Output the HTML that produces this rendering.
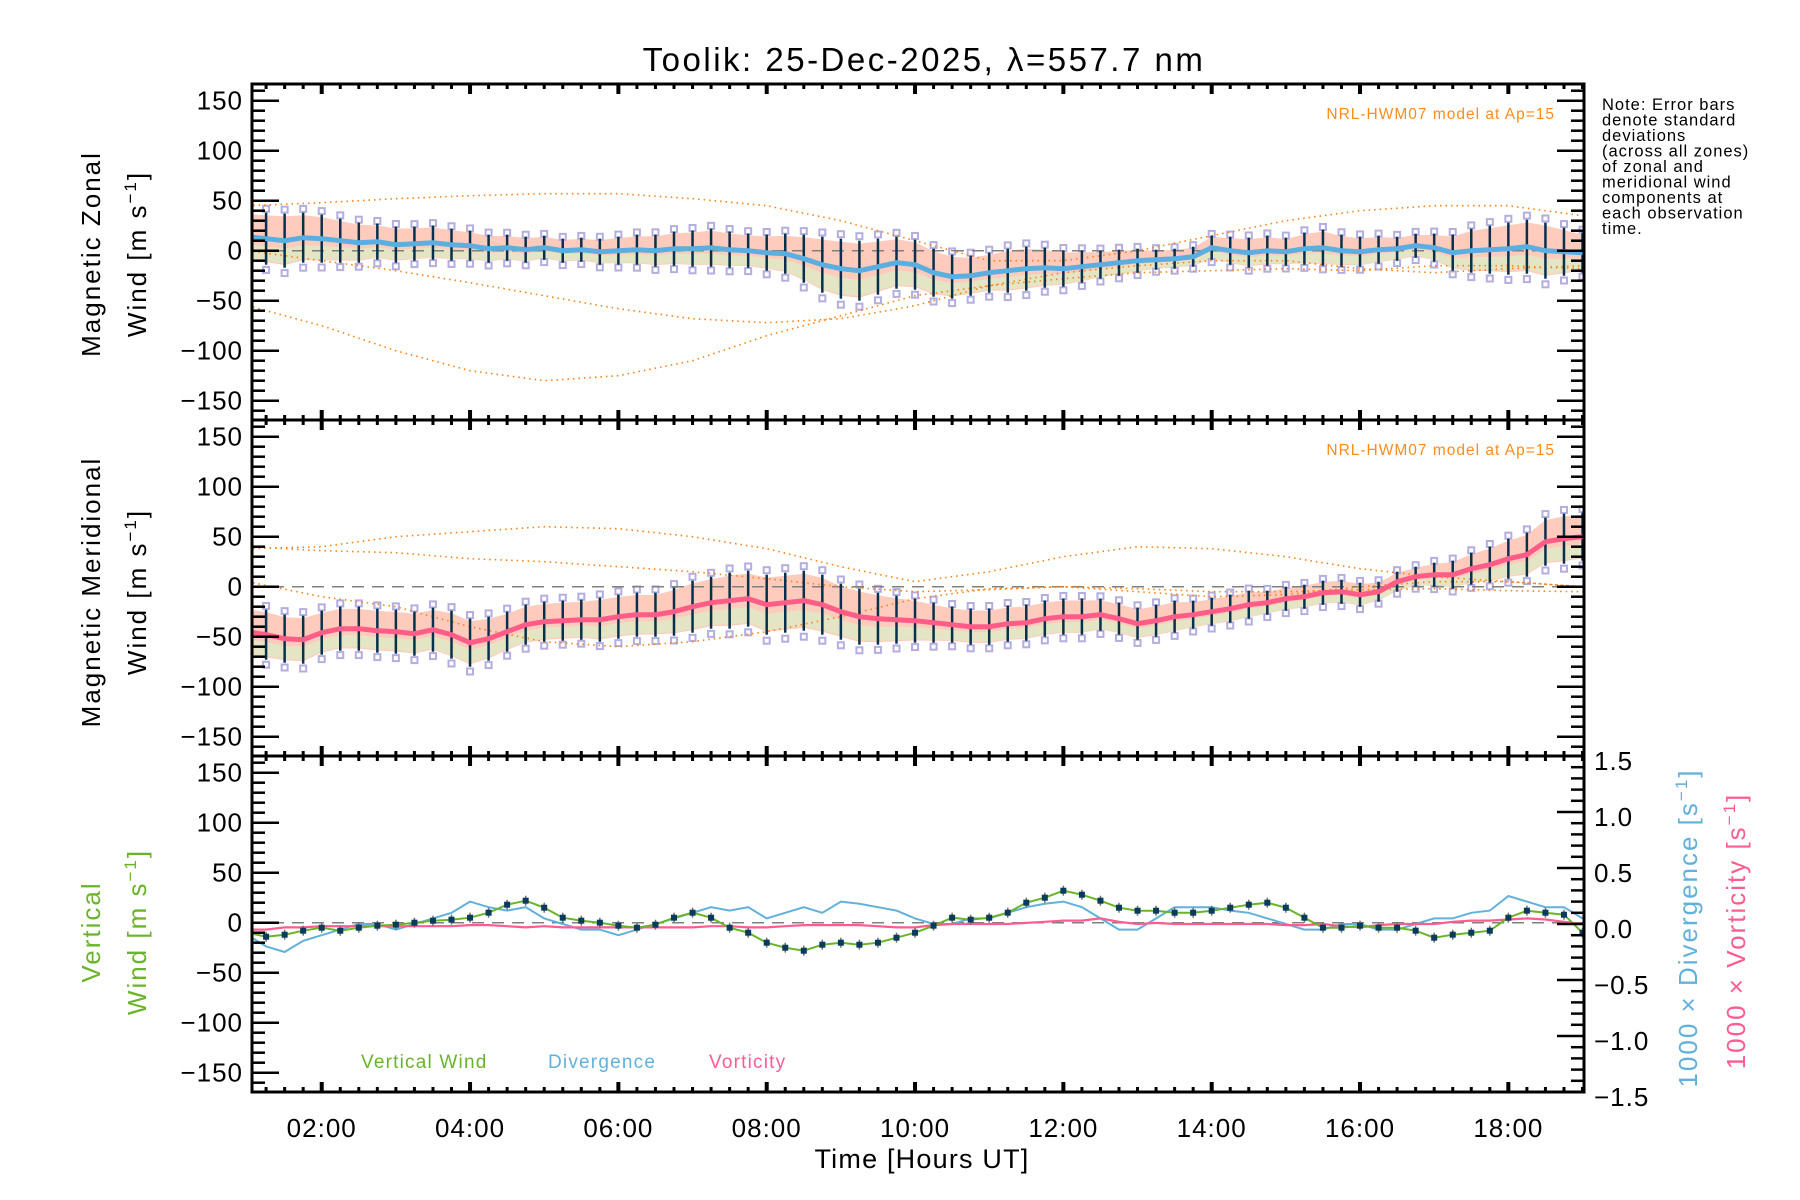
<!DOCTYPE html>
<html><head><meta charset="utf-8"><style>
html,body{margin:0;padding:0;background:#fff}
svg{display:block}
text{font-family:"Liberation Sans",sans-serif}
</style></head><body>
<svg id="chart" width="1800" height="1200" viewBox="0 0 1800 1200" xmlns="http://www.w3.org/2000/svg">
<text x="924" y="71" font-size="33" letter-spacing="2.5" text-anchor="middle">Toolik: 25-Dec-2025, λ=557.7 nm</text>
<g font-size="16.5" letter-spacing="1">
<text x="1602" y="110">Note: Error bars</text>
<text x="1602" y="125.5">denote standard</text>
<text x="1602" y="141">deviations</text>
<text x="1602" y="156.5">(across all zones)</text>
<text x="1602" y="172">of zonal and</text>
<text x="1602" y="187.5">meridional wind</text>
<text x="1602" y="203">components at</text>
<text x="1602" y="218.5">each observation</text>
<text x="1602" y="234">time.</text>
</g>
<g id="plots"></g>
</svg>
<script>
// ---- data (t = 1.00 .. 19.00 step 0.25 h) ----
const zonal = [14,12,10,13, 12,10,8,9, 6,7,8,6, 5,2,3,1, 3,0,1,-1, 0,1,0,2, 2,3,1,0, -2,-3,-8,-14, -18,-20,-16,-12, -14,-22,-26,-25, -22,-20,-18,-17, -18,-16,-14,-12, -10,-9,-8,-6, 3,0,-2,0, -1,2,3,0, -1,1,2,5, 3,-2,0,1, 2,4,0,-1, -2];
const zonalStd = [25,26,27,25, 24,22,20,18, 18,17,17,16, 15,14,13,13, 12,12,12,13, 14,15,16,17, 18,19,18,17, 18,20,24,28, 30,30,28,26, 25,24,22,20, 20,22,22,20, 18,16,14,13, 12,10,10,10, 12,14,15,15, 14,16,18,16, 15,14,12,12, 14,18,22,24, 26,27,28,24, 20];
const merid = [-45,-48,-52,-53, -46,-42,-42,-44, -45,-47,-43,-48, -56,-52,-45,-38, -35,-34,-33,-33, -30,-28,-28,-25, -20,-16,-14,-12, -18,-16,-14,-18, -25,-30,-32,-33, -34,-36,-38,-40, -40,-37,-36,-32, -30,-30,-28,-32, -37,-34,-30,-28, -25,-22,-18,-16, -12,-10,-6,-5, -8,-5,5,10, 12,12,18,22, 28,32,45,48, 50];
const meridStd = [25,25,24,24, 22,22,22,22, 22,22,22,24, 24,22,20,20, 20,20,20,22, 22,22,22,24, 26,26,28,28, 30,30,30,30, 28,28,26,24, 22,20,18,18, 18,18,18,18, 18,18,16,16, 16,16,16,14, 14,14,14,12, 12,12,12,12, 12,10,10,10, 12,14,16,18, 20,22,24,25, 24];
const vertical = [-10,-14,-12,-8, -5,-8,-5,-3, -2,0,2,3, 5,10,18,22, 15,5,2,0, -3,-5,-2,5, 10,5,-5,-10, -20,-25,-28,-22, -20,-22,-20,-15, -10,-3,5,3, 5,10,20,25, 32,28,22,15, 12,12,10,10, 12,15,18,20, 15,5,-5,-5, -3,-5,-5,-8, -15,-12,-10,-8, 5,12,10,8, -10];
const divergence = [-0.1,-0.2,-0.25,-0.15, -0.1,-0.05,0.0,0.0, -0.05,0.0,0.05,0.1, 0.2,0.15,0.12,0.15, 0.05,0.0,-0.05,-0.05, -0.1,-0.05,0.0,0.05, 0.1,0.15,0.12,0.15, 0.05,0.1,0.15,0.1, 0.2,0.18,0.15,0.12, 0.05,0.0,0.0,0.05, 0.05,0.1,0.15,0.18, 0.2,0.15,0.05,-0.05, -0.05,0.05,0.15,0.15, 0.15,0.12,0.1,0.05, 0.0,-0.05,-0.05,0.0, 0.0,-0.05,-0.05,0.0, 0.05,0.05,0.1,0.12, 0.25,0.2,0.15,0.15, 0.05];
const vorticity = [-0.05,-0.05,-0.03,-0.03, -0.02,-0.02,-0.02,-0.02, -0.02,-0.02,-0.02,-0.02, -0.01,-0.01,-0.02,-0.03, -0.02,-0.03,-0.03,-0.03, -0.03,-0.03,-0.03,-0.03, -0.03,-0.02,-0.02,-0.03, -0.03,-0.02,-0.01,-0.01, -0.01,-0.01,-0.02,-0.03, -0.03,-0.01,0.0,0.0, 0.0,0.0,0.01,0.02, 0.03,0.03,0.05,0.02, 0.0,0.01,0.0,0.0, 0.0,0.0,0.0,0.0, -0.01,-0.01,0.0,-0.02, -0.03,-0.01,0.0,0.0, 0.0,0.02,0.03,0.03, 0.04,0.05,0.04,0.02, 0.0];
// model curves, hourly 1..19
const modelHours = [1,2,3,4,5,6,7,8,9,10,11,12,13,14,15,16,17,18,19];
const zModelUpper = [45,48,52,55,57,57,52,45,30,10,-10,-10,0,15,30,40,45,45,35];
const zModelA = [-55,-75,-100,-120,-130,-125,-110,-85,-65,-45,-35,-28,-22,-20,-18,-20,-15,-15,-18];
const zModelB = [0,-10,-20,-32,-45,-58,-68,-72,-68,-55,-35,-22,-15,-10,-10,-18,-22,-18,-15];
const mModelUpper = [38,40,50,55,60,58,50,38,20,5,15,30,40,38,30,18,10,5,0];
const mModelA = [5,-10,-20,-40,-55,-60,-55,-45,-30,-12,-2,0,-5,-10,-8,0,5,5,0];
const mModelB = [40,36,34,28,25,20,15,8,0,-5,-3,0,-2,-5,-5,-3,-2,-4,-5];
const leftTicks = [150,100,50,0,-50,-100,-150];
const leftTickLabels = ["150","100","50","0","\u221250","\u2212100","\u2212150"];
const rightTicks = [1.5,1.0,0.5,0.0,-0.5,-1.0,-1.5];
const rightTickLabels = ["1.5","1.0","0.5","0.0","\u22120.5","\u22121.0","\u22121.5"];
const xTickHours = [2,4,6,8,10,12,14,16,18];
const xTickLabels = ["02:00","04:00","06:00","08:00","10:00","12:00","14:00","16:00","18:00"];

// ---- geometry ----
const L=252, R=1584, T0=84, PH=336;
const tStart=1.06, tEnd=19.02;
const NS="http://www.w3.org/2000/svg";
const root=document.getElementById('plots');
function X(t){return L+(t-tStart)/(tEnd-tStart)*(R-L);}
function Y(p,v){return T0+p*PH+(166.7-v)*(PH/336);}
function Yr(v){return T0+2*PH+(1.5-v)/3*PH;}
function tAt(i){return 1+0.25*i;}
function mk(tag,attrs,parent){const e=document.createElementNS(NS,tag);for(const k in attrs)e.setAttribute(k,attrs[k]);(parent||root).appendChild(e);return e;}
const clip=mk('clipPath',{id:'cp'});mk('rect',{x:L,y:T0,width:R-L,height:3*PH},clip);

function linePath(xs,ys){return xs.map((x,i)=>(i?'L':'M')+x.toFixed(1)+' '+ys[i].toFixed(1)).join(' ');}

function windPanel(p,mean,std,lineColor,upper,A,B){
  const g=mk('g',{'clip-path':'url(#cp)'});
  
  
  const n=mean.length;
  let up=[],lo=[];
  for(let i=0;i<n;i++){up.push([X(tAt(i)),Y(p,mean[i]+std[i]*0.9)]);lo.push([X(tAt(i)),Y(p,mean[i]-std[i]*0.9)]);}
  const band=mk('path',{d:'M'+up.map(q=>q.join(' ')).join(' L')+' L'+lo.reverse().map(q=>q.join(' ')).join(' L')+'Z',fill:'#ffc2b0',opacity:'0.85'},g);
  
  
  let u2=[],l2=[];
  for(let i=0;i<n;i++){u2.push([X(tAt(i)),Y(p,mean[i]-std[i]*0.3)]);l2.push([X(tAt(i)),Y(p,mean[i]-std[i]*0.85)]);}
  const band2=mk('path',{d:'M'+u2.map(q=>q.join(' ')).join(' L')+' L'+l2.reverse().map(q=>q.join(' ')).join(' L')+'Z',fill:'#d8f0c8',opacity:'0.7'},g);
  
  
  for(let i=0;i<n;i++){
    [1.15,-1.2].forEach(f=>{
      const s=mk('rect',{x:X(tAt(i))-3,y:Y(p,mean[i]+std[i]*f)-3,width:6,height:6,fill:'none',stroke:'#b4aee0','stroke-width':2},g);
      
      
    });
  }
  const z=mk('line',{x1:L,x2:R,y1:Y(p,0),y2:Y(p,0),stroke:'#808080','stroke-width':1.5,'stroke-dasharray':'12 8'},g);
  
  
  [upper,A,B].forEach(arr=>{
    const c=mk('path',{d:linePath(modelHours.map(X),arr.map(v=>Y(p,v))),fill:'none',stroke:'#ff8010','stroke-width':1.6,'stroke-dasharray':'1.5 4'},g);
    
    
  });
  for(let i=0;i<n;i++){
    const b=mk('line',{x1:X(tAt(i)),x2:X(tAt(i)),y1:Y(p,mean[i]+std[i]),y2:Y(p,mean[i]-std[i]),stroke:'#07304c','stroke-width':2.5},g);
    
    
  }
  const xs=mean.map((v,i)=>X(tAt(i))), ys=mean.map(v=>Y(p,v));
  const ml=mk('path',{d:linePath(xs,ys),fill:'none',stroke:lineColor,'stroke-width':5},g);
  
  
  const lab=mk('text',{x:1555,y:T0+p*PH+35,'font-size':15.5,'letter-spacing':1,fill:'#ff8c1a','text-anchor':'end'});
  lab.textContent='NRL-HWM07 model at Ap=15';
  
  
}
windPanel(0,zonal,zonalStd,'#5aaee0',zModelUpper,zModelA,zModelB);
windPanel(1,merid,meridStd,'#ff5c88',mModelUpper,mModelA,mModelB);

(function(){
  const p=2;const g=mk('g',{'clip-path':'url(#cp)'});
  
  
  const z=mk('line',{x1:L,x2:R,y1:Y(p,0),y2:Y(p,0),stroke:'#808080','stroke-width':1.5,'stroke-dasharray':'12 8'},g);
  
  
  const xs=vertical.map((v,i)=>X(tAt(i)));
  const dv=mk('path',{d:linePath(xs,divergence.map(Yr)),fill:'none',stroke:'#62b0dc','stroke-width':2},g);
  
  
  const vo=mk('path',{d:linePath(xs,vorticity.map(Yr)),fill:'none',stroke:'#ff5c90','stroke-width':2.2},g);
  
  
  const vw=mk('path',{d:linePath(xs,vertical.map(v=>Y(p,v))),fill:'none',stroke:'#6ab42a','stroke-width':2},g);
  
  
  vertical.forEach((v,i)=>{
    const e=mk('line',{x1:xs[i],x2:xs[i],y1:Y(p,v+5),y2:Y(p,v-5),stroke:'#707070','stroke-width':1.5},g);
    
    
    const d=mk('rect',{x:xs[i]-3,y:Y(p,v)-3,width:6,height:6,fill:'#0a3a5c'},g);
    
    
  });
  [['Vertical Wind',361,'#6ab42a'],['Divergence',548,'#62b0dc'],['Vorticity',709,'#ff5c90']].forEach(a=>{
    const t=mk('text',{x:a[1],y:1068,'font-size':19,'letter-spacing':1.2,fill:a[2]});t.textContent=a[0];
    
    
  });
})();

for(let p=0;p<3;p++){
  const top=T0+p*PH,bot=top+PH;
  const f=mk('rect',{x:L,y:top,width:R-L,height:PH,fill:'none',stroke:'#000','stroke-width':3});
  
  
  for(let v=-160;v<=160;v+=10){
    const major=v%50===0, len=major?27:13, y=Y(p,v);
    mk('line',{x1:L,x2:L+len,y1:y,y2:y,stroke:'#000','stroke-width':2.5});
    if(p<2) mk('line',{x1:R,x2:R-len,y1:y,y2:y,stroke:'#000','stroke-width':2.5});
  }
  leftTicks.forEach((v,i)=>{
    const t=mk('text',{x:L-9,y:Y(p,v)+9,'font-size':26,'letter-spacing':1,'text-anchor':'end'});t.textContent=leftTickLabels[i];
    
    
  });
  for(let t=1.25;t<=19;t+=0.25){
    const major=Math.abs(t/2-Math.round(t/2))<1e-6, len=major?10:5, x=X(t);
    mk('line',{x1:x,x2:x,y1:top,y2:top+len,stroke:'#000','stroke-width':major?4:3});
    mk('line',{x1:x,x2:x,y1:bot,y2:bot-len,stroke:'#000','stroke-width':major?4:3});
  }
}
for(let v=-1.5;v<=1.501;v+=0.1){
  const major=Math.abs(v*2-Math.round(v*2))<1e-6, len=major?27:13, y=Yr(v);
  mk('line',{x1:R,x2:R-len,y1:y,y2:y,stroke:'#000','stroke-width':2.5});
}
rightTicks.forEach((v,i)=>{
  const t=mk('text',{x:R+10,y:Yr(v)+14,'font-size':26,'letter-spacing':1});t.textContent=rightTickLabels[i];
  
  
});
xTickHours.forEach((h,i)=>{
  const t=mk('text',{x:X(h),y:1137,'font-size':26,'letter-spacing':1,'text-anchor':'middle'});t.textContent=xTickLabels[i];
  
  
});
const xt=mk('text',{x:922,y:1168,'font-size':27,'letter-spacing':1.2,'text-anchor':'middle'});xt.textContent='Time [Hours UT]';



function rotText(txt,x,y,color,name){
  const t=mk('text',{x:0,y:0,'font-size':26,'letter-spacing':2,'text-anchor':'middle',fill:color,transform:`translate(${x},${y}) rotate(-90)`});
  t.innerHTML=txt;
  
  
}
const unit='Wind [m s<tspan dy="-10" font-size="17">\u22121</tspan><tspan dy="10">]</tspan>';
rotText('Magnetic Zonal',100,254,'#000','zonal-axis-title');
rotText(unit,146,254,'#000','zonal-axis-unit');
rotText('Magnetic Meridional',100,592,'#000','meridional-axis-title');
rotText(unit,146,592,'#000','meridional-axis-unit');
rotText('Vertical',100,932,'#6ab42a','vertical-axis-title');
rotText(unit,146,932,'#6ab42a','vertical-axis-unit');
rotText('1000 × Divergence [s<tspan dy="-10" font-size="17">\u22121</tspan><tspan dy="10">]</tspan>',1697,928,'#62b0dc','divergence-axis-title');
rotText('1000 × Vorticity [s<tspan dy="-10" font-size="17">\u22121</tspan><tspan dy="10">]</tspan>',1745,931,'#ff5c90','vorticity-axis-title');
</script>
</body></html>
